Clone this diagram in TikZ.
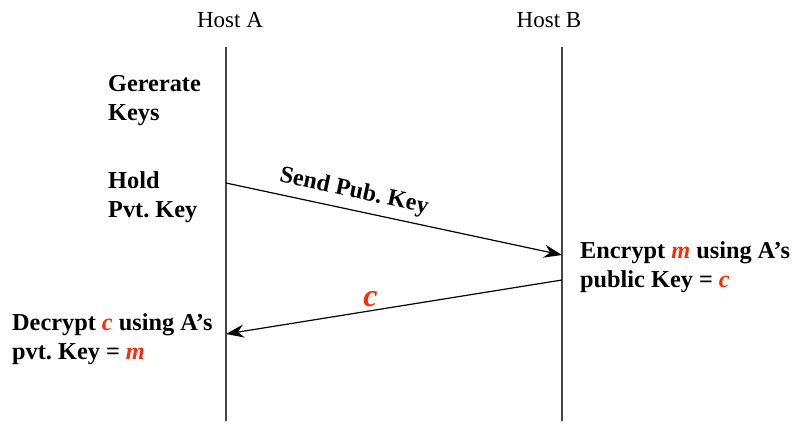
\documentclass[tikz,border=0pt]{standalone}
\usepackage{fontspec}
\setmainfont{Liberation Serif}
\usetikzlibrary{arrows.meta}
\definecolor{keyred}{RGB}{250,45,10}
\definecolor{lifegray}{RGB}{70,70,70}
\newcommand{\rv}[1]{\textcolor{keyred}{\textit{#1}}}
\frenchspacing
\tikzset{
  host/.style={font=\fontsize{23}{28}\selectfont, inner sep=0pt, anchor=base},
  note/.style={font=\fontsize{24.3}{29}\selectfont\bfseries, inner sep=0pt, align=left, anchor=base west},
  lifeline/.style={draw=lifegray, line width=1.3pt},
  msg/.style={draw=black, line width=1.2pt, -{Stealth[length=18pt,width=13pt,inset=6pt]}}
}
\begin{document}
\begin{tikzpicture}[x=1pt,y=-1pt]
  \useasboundingbox (0,0) rectangle (796,421);
  % lifelines
  \coordinate (aTop) at (226,47);
  \coordinate (aBot) at (226,421);
  \coordinate (bTop) at (562,47);
  \coordinate (bBot) at (562,421);
  \draw[lifeline] (aTop) -- (aBot);
  \draw[lifeline] (bTop) -- (bBot);
  % host titles
  \node[host] (hostA) at (230,27) {Host A};
  \node[host] (hostB) at (549,27) {Host B};
  % side notes (anchored at the baseline of their last line)
  \node[note] (gen) at (108,120) {Gererate\\Keys};
  \node[note] (hold) at (108,217) {Hold\\Pvt. Key};
  \node[note] (enc) at (580,287) {Encrypt \rv{m} using A’s\\public Key = \rv{c}};
  \node[note] (dec) at (12,359) {Decrypt \rv{c} using A’s\\pvt. Key = \rv{m}};
  % messages
  \coordinate (s1) at (226,183);
  \coordinate (e1) at (562,255);
  \coordinate (s2) at (562,280);
  \coordinate (e2) at (226,334);
  \draw[msg] (s1) -- node[pos=0.37, above=3pt, sloped, font=\fontsize{24}{26}\selectfont\bfseries] (lblKey) {Send Pub. Key} (e1);
  \draw[msg] (s2) -- node[pos=0.57, above=0pt, font=\fontsize{32}{34}\selectfont\bfseries\itshape, text=keyred] (lblC) {c} (e2);
\end{tikzpicture}
\end{document}
